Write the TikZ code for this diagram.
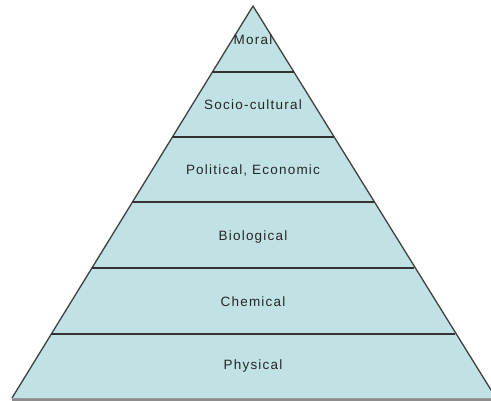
\documentclass[tikz,border=0pt]{standalone}
\usepackage{fontspec}
\setmainfont{Liberation Sans}[LetterSpace=9]
\begin{document}
\begin{tikzpicture}[x=1pt,y=-1pt,
  lvl/.style={font=\fontsize{13.5}{15}\selectfont, text=black!85},
  sep/.style={draw=black!80, line width=2pt}]
\useasboundingbox (0,0) rectangle (491,401);
\begin{scope}
\clip (0,0) rectangle (491,401);
\fill[black!45] (12,397) -- (496,397) -- (496,401) -- (12,401) -- cycle;
\fill[fill={rgb,255:red,193;green,226;blue,228}] (253,6) -- (496,398) -- (12,398) -- cycle;
\draw[black!75, line width=1.3pt, line join=round] (12,398) -- (253,6) -- (496,398);
\draw[black!40, line width=1pt] (12,398.5) -- (496,398.5);
\foreach \y in {72,137,202,268,334} {
  \pgfmathsetmacro\hw{(\y-6)*0.6148}
  \draw[sep] (253-\hw,\y) -- (253+\hw,\y);
}
\end{scope}
\node[lvl] (moral) at (253,40) {Moral};
\node[lvl] (socio) at (253,105) {Socio-cultural};
\node[lvl] (polit) at (253,170) {Political, Economic};
\node[lvl] (bio) at (253,237) {Biological};
\node[lvl] (chem) at (253,302) {Chemical};
\node[lvl] (phys) at (253,366) {Physical};
\end{tikzpicture}
\end{document}
